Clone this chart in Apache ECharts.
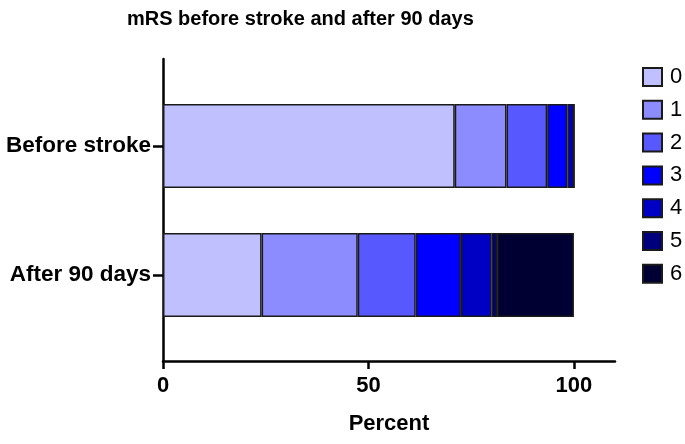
<!DOCTYPE html>
<html>
<head>
<meta charset="utf-8">
<script src="https://cdn.jsdelivr.net/npm/echarts@6/dist/echarts.min.js"></script>
<style>
html,body{margin:0;padding:0;background:#fff;}
#chart{width:685px;height:444px;}
</style>
</head>
<body>
<div id="chart"></div>
<script>
const categories = ['Before stroke', 'After 90 days'];
const levels = ['0', '1', '2', '3', '4', '5', '6'];
const mrs0 = [71.0, 24.0];
const mrs1 = [12.6, 23.4];
const mrs2 = [9.9, 14.1];
const mrs3 = [4.9, 11.0];
const mrs4 = [1.6, 7.5];
const mrs5 = [0, 1.3];
const mrs6 = [0, 18.7];
const xTicks = [0, 50, 100];

const values = [mrs0, mrs1, mrs2, mrs3, mrs4, mrs5, mrs6];
const colors = ['#c0c0ff', '#8c8cff', '#5858ff', '#0000ff', '#0000c4', '#00007c', '#000033'];
const FONT = '"Liberation Sans", Arial, sans-serif';

const chart = echarts.init(document.getElementById('chart'), null, {renderer: 'canvas'});
chart.setOption({
  animation: false,
  backgroundColor: '#ffffff',
  title: {
    text: 'mRS before stroke and after 90 days',
    left: 122, top: 4,
    textStyle: {fontFamily: FONT, fontWeight: 'bold', fontSize: 20, color: '#000'}
  },
  legend: {
    orient: 'vertical',
    left: 637, top: 61,
    icon: 'rect',
    itemWidth: 19, itemHeight: 18, itemGap: 10.8,
    data: levels,
    textStyle: {fontFamily: FONT, fontSize: 22, color: '#000', padding: [0, 0, 0, 3]}
  },
  grid: [
    {left: 163, top: 59, width: 452, height: 302, containLabel: false},
    {left: 163, top: 81.5, width: 452, height: 258, containLabel: false}
  ],
  xAxis: [
    {
      gridIndex: 0, type: 'value', min: 0, max: 110, interval: 50,
      name: 'Percent', nameLocation: 'middle', nameGap: 52,
      nameTextStyle: {fontFamily: FONT, fontWeight: 'bold', fontSize: 22, color: '#000'},
      axisLine: {show: true, lineStyle: {color: '#000', width: 2.5}},
      axisTick: {show: true, length: 8, lineStyle: {color: '#000', width: 2.5}, customValues: xTicks},
      axisLabel: {fontFamily: FONT, fontWeight: 'bold', fontSize: 22, color: '#000', margin: 14, customValues: xTicks},
      splitLine: {show: false}
    },
    {
      gridIndex: 1, type: 'value', min: 0, max: 110, show: false
    }
  ],
  yAxis: [
    {
      gridIndex: 0, type: 'value', min: 0, max: 1,
      axisLine: {show: true, lineStyle: {color: '#000', width: 2.5}},
      axisTick: {show: false}, axisLabel: {show: false}, splitLine: {show: false}
    },
    {
      gridIndex: 1, type: 'category', inverse: true, data: categories,
      axisLine: {show: false},
      axisTick: {show: true, alignWithLabel: true, length: 10, lineStyle: {color: '#000', width: 2.5}},
      axisLabel: {fontFamily: FONT, fontWeight: 'bold', fontSize: 22.5, color: '#000', margin: 12},
      splitLine: {show: false}
    }
  ],
  series: levels.map((name, i) => ({
    name: name,
    type: 'bar',
    stack: 'total',
    xAxisIndex: 1, yAxisIndex: 1,
    barWidth: 84,
    data: values[i],
    itemStyle: {color: colors[i], borderColor: '#1a1a1a', borderWidth: 1.5}
  }))
});
</script>
</body>
</html>
